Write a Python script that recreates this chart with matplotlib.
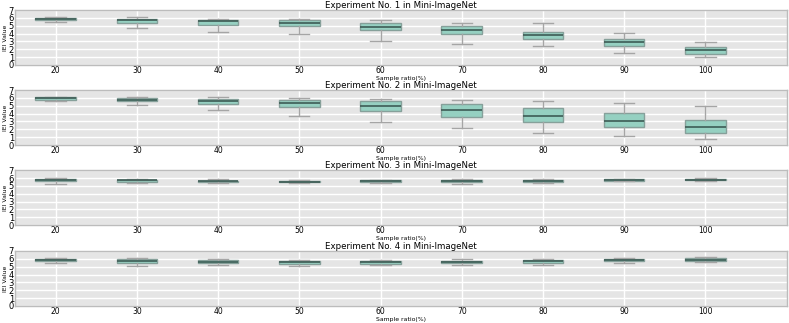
import matplotlib
matplotlib.use('Agg')
import matplotlib.pyplot as plt

plt.style.use('ggplot')

ratios = [20, 30, 40, 50, 60, 70, 80, 90, 100]

# each experiment: lower whisker, q1, median, q3, upper whisker
exp1_lo = [5.43, 4.76, 4.19, 3.92, 3.00, 2.68, 2.47, 1.55, 1.06]
exp1_q1 = [5.68, 5.38, 5.11, 4.98, 4.45, 3.96, 3.34, 2.47, 1.41]
exp1_med = [5.85, 5.68, 5.55, 5.38, 4.89, 4.45, 3.79, 2.87, 1.85]
exp1_q3 = [5.98, 5.90, 5.77, 5.77, 5.38, 4.93, 4.19, 3.26, 2.29]
exp1_hi = [6.08, 6.08, 5.90, 5.90, 5.77, 5.38, 5.38, 4.05, 2.87]

exp2_lo = [5.59, 5.08, 4.44, 3.76, 2.90, 2.13, 1.49, 1.11, 0.81]
exp2_q1 = [5.80, 5.55, 5.20, 4.82, 4.40, 3.63, 2.99, 2.30, 1.58]
exp2_med = [5.98, 5.80, 5.59, 5.33, 5.00, 4.48, 3.71, 3.07, 2.35]
exp2_q3 = [6.10, 5.98, 5.85, 5.76, 5.59, 5.20, 4.69, 4.05, 3.16]
exp2_hi = [6.15, 6.10, 6.06, 5.98, 5.89, 5.76, 5.59, 5.33, 4.99]

exp3_lo = [5.29, 5.33, 5.33, 5.33, 5.33, 5.29, 5.42, 5.59, 5.68]
exp3_q1 = [5.63, 5.55, 5.55, 5.46, 5.50, 5.55, 5.50, 5.68, 5.72]
exp3_med = [5.76, 5.72, 5.63, 5.55, 5.63, 5.63, 5.63, 5.76, 5.80]
exp3_q3 = [5.89, 5.80, 5.68, 5.68, 5.72, 5.72, 5.76, 5.85, 5.93]
exp3_hi = [5.98, 5.89, 5.85, 5.76, 5.80, 5.85, 5.85, 5.89, 5.98]

exp4_lo = [5.47, 5.03, 5.20, 5.03, 5.20, 5.20, 5.25, 5.42, 5.64]
exp4_q1 = [5.73, 5.47, 5.42, 5.34, 5.34, 5.47, 5.47, 5.69, 5.77]
exp4_med = [5.86, 5.73, 5.64, 5.56, 5.56, 5.60, 5.69, 5.82, 5.90]
exp4_q3 = [5.99, 5.99, 5.82, 5.73, 5.73, 5.77, 5.90, 5.95, 6.08]
exp4_hi = [6.08, 6.08, 5.95, 5.86, 5.86, 5.99, 6.04, 6.08, 6.17]

experiments = [
  (exp1_lo, exp1_q1, exp1_med, exp1_q3, exp1_hi),
  (exp2_lo, exp2_q1, exp2_med, exp2_q3, exp2_hi),
  (exp3_lo, exp3_q1, exp3_med, exp3_q3, exp3_hi),
  (exp4_lo, exp4_q1, exp4_med, exp4_q3, exp4_hi),
]

fig = plt.figure(figsize=(7.89, 3.23), dpi=100)
bottoms = [0.799, 0.551, 0.303, 0.053]

for i, (lo, q1, med, q3, hi) in enumerate(experiments):
  ax = fig.add_axes([0.019, bottoms[i], 0.978, 0.170])
  stats = [dict(whislo=a, q1=b, med=c, q3=d, whishi=e, fliers=[])
           for a, b, c, d, e in zip(lo, q1, med, q3, hi)]
  ax.bxp(stats, positions=ratios, widths=5, patch_artist=True,
         boxprops=dict(facecolor='#95d0c1', edgecolor='#86a09a', linewidth=1),
         medianprops=dict(color='#3d5c55', linewidth=1.2),
         whiskerprops=dict(color='#a5a5a5', linewidth=1),
         capprops=dict(color='#a5a5a5', linewidth=1))
  ax.set_xlim(15, 110)
  ax.set_ylim(0, 7)
  ax.set_yticks(range(8))
  ax.set_xticks(ratios)
  ax.set_xticklabels([str(r) for r in ratios])
  ax.set_facecolor('#e5e5e5')
  ax.grid(True, color='white', linewidth=1)
  for s in ax.spines.values():
    s.set_visible(True)
    s.set_color('#bcbcbc')
    s.set_linewidth(1)
  ax.tick_params(axis='x', labelsize=5.5, labelcolor='black', length=0, pad=0.8)
  ax.tick_params(axis='y', labelsize=6, labelcolor='black', length=0, pad=0.8)
  ax.set_title(f'Experiment No. {i + 1} in Mini-ImageNet', fontsize=6.2, pad=1.5, color='black')
  ax.set_xlabel('Sample ratio(%)', fontsize=4.4, labelpad=0.5, color='black')
  ax.set_ylabel('IEI Value', fontsize=4.4, labelpad=0.5, color='black')

fig.savefig('out.png', dpi=100)
